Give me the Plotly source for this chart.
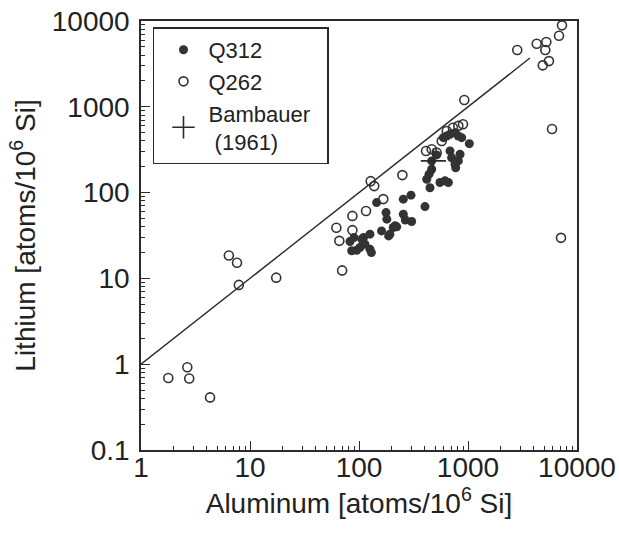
import plotly.graph_objects as go

# Q312 (filled circles)
q312_al = [82.7, 90, 95.2, 102, 110, 113.5, 126, 126, 130, 85.7, 106,
           145, 177, 180, 161, 187, 206, 222, 255, 300, 255, 266, 304, 403, 214, 192,
           418, 448, 464, 553, 615, 660, 684, 708, 760, 771, 815, 845, 875, 1028,
           684, 760, 637, 594, 815, 464, 516, 439]
q312_li = [26.9, 29.9, 21.3, 22.9, 29.9, 25, 32.8, 21.9, 20, 21, 28.7,
           76.5, 58.5, 49, 35.8, 31.3, 39.2, 39.9, 83.8, 93.3, 56, 48, 46, 68.7, 41, 32.7,
           143, 114, 187, 131, 137, 131, 306, 255, 214, 195, 234, 280, 437, 372,
           479, 500, 457, 437, 457, 234, 275, 164]

# Q262 (open circles)
q262_al = [1.78, 2.66, 2.77, 4.3, 6.4, 7.6, 7.9, 17.4, 70, 62, 66, 87, 87, 116,
           128, 138, 167, 250, 412, 464, 516, 574, 638, 728, 815, 900, 925,
           2830, 4270, 5230, 5120, 4850, 5530, 6840, 7280, 5900, 7130]
q262_li = [0.69, 0.92, 0.68, 0.41, 18.5, 15.2, 8.4, 10.2, 12.4, 39, 27.4, 53.5, 36.5, 61,
           136, 119, 84, 160, 306, 320, 292, 400, 523, 571, 600, 626, 1200,
           4590, 5430, 5690, 4590, 3040, 3410, 6730, 8900, 552, 29.7]

# Bambauer (1961)
bamb_al = [481]
bamb_li = [234]

# 1:1 reference line
line_al = [1, 3700]
line_li = [1, 3700]

x_ticks = [1, 10, 100, 1000, 10000]
y_ticks = [0.1, 1, 10, 100, 1000, 10000]
x_minor = [k * 10 ** d for d in range(0, 4) for k in range(2, 10)]
y_minor = [k * 10.0 ** d for d in range(-1, 4) for k in range(2, 10)]

INK = "#2b2b2b"
FONT = "Liberation Sans"

fig = go.Figure()
fig.add_trace(go.Scatter(x=line_al, y=line_li, mode="lines",
                         line=dict(color=INK, width=1.4), showlegend=False, hoverinfo="skip"))
fig.add_trace(go.Scatter(x=q312_al, y=q312_li, mode="markers", name="Q312",
                         marker=dict(symbol="circle", size=9, color="#333333",
                                     line=dict(width=0))))
fig.add_trace(go.Scatter(x=q262_al, y=q262_li, mode="markers", name="Q262",
                         marker=dict(symbol="circle-open", size=9, color="#333333",
                                     line=dict(width=1.6, color="#333333"))))
fig.add_trace(go.Scatter(x=bamb_al, y=bamb_li, mode="markers",
                         name="Bambauer&nbsp;&nbsp;<br> (1961)",
                         marker=dict(symbol="cross-thin", size=18, color=INK,
                                     line=dict(width=1.6, color=INK))))

axis_common = dict(
    type="log", showgrid=False, zeroline=False,
    showline=True, linecolor=INK, linewidth=1.5, mirror=True,
    ticks="inside", ticklen=9, tickwidth=1.2, tickcolor=INK,
    tickfont=dict(family=FONT, size=28, color="#222"),
)

fig.update_xaxes(
    **axis_common, range=[0, 4],
    tickvals=x_ticks, ticktext=[str(v) for v in x_ticks],
    ticklabelstandoff=-8,
    minor=dict(ticks="inside", ticklen=4, tickwidth=1, tickcolor=INK, tickvals=x_minor, showgrid=False),
    title=dict(text="Aluminum [atoms/10<sup>6</sup> Si]", standoff=4,
               font=dict(family=FONT, size=28, color="#222")),
)
fig.update_yaxes(
    **axis_common, range=[-1, 4],
    tickvals=y_ticks, ticktext=["0.1", "1", "10", "100", "1000", "10000"],
    ticklabelstandoff=4,
    minor=dict(ticks="inside", ticklen=4, tickwidth=1, tickcolor=INK, tickvals=y_minor, showgrid=False),
    title=dict(text="Lithium [atoms/10<sup>6</sup> Si]", standoff=8,
               font=dict(family=FONT, size=28, color="#222")),
)

fig.update_layout(
    width=619, height=534,
    margin=dict(l=141, r=42, t=21, b=84, autoexpand=False),
    plot_bgcolor="white", paper_bgcolor="white",
    font=dict(family=FONT, size=28, color="#222"),
    legend=dict(x=0.0275, y=0.985, xanchor="left", yanchor="top",
                bgcolor="white", bordercolor=INK, borderwidth=1.5,
                font=dict(family=FONT, size=22, color="#222"),
                itemwidth=40, indentation=4, tracegroupgap=0),
)

fig.write_html("out.html", config={"displayModeBar": False},
               post_script="document.body.style.margin='0';document.documentElement.style.overflow='hidden';")
